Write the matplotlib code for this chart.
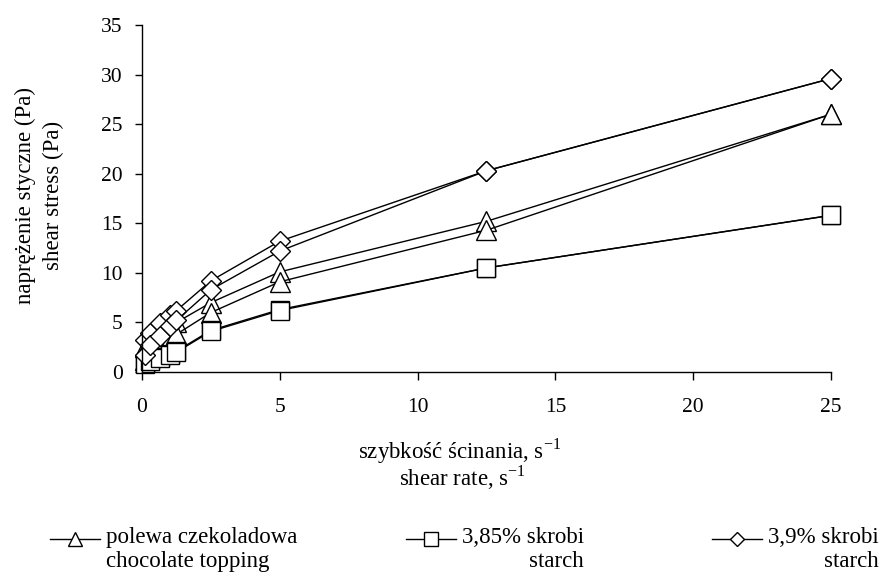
import matplotlib
matplotlib.use("Agg")
import matplotlib.pyplot as plt
from matplotlib.lines import Line2D

plt.rcParams['font.family'] = ['Liberation Serif', 'DejaVu Serif']
plt.rcParams['mathtext.fontset'] = 'custom'
plt.rcParams['mathtext.rm'] = 'Liberation Serif'

# shear rate (s^-1)
shear_rate = [0.1, 0.3, 0.65, 1.0, 1.25, 2.5, 5, 12.5, 25]

# polewa czekoladowa / chocolate topping (up and down curves)
topping_up = [2.5, 3.2, 4.0, 4.6, 5.0, 7.0, 10.1, 15.2, 26.0]
topping_down = [1.2, 1.8, 2.6, 3.3, 3.8, 6.0, 9.1, 14.3, 26.0]

# 3,85% skrobi / starch
starch385_up = [0.9, 1.2, 1.5, 1.8, 2.1, 4.2, 6.3, 10.5, 15.8]
starch385_down = [0.8, 1.1, 1.4, 1.7, 2.0, 4.1, 6.2, 10.5, 15.8]

# 3,9% skrobi / starch
starch39_up = [3.2, 3.9, 4.9, 5.7, 6.2, 9.2, 13.2, 20.3, 29.6]
starch39_down = [1.7, 2.7, 3.6, 4.6, 5.2, 8.3, 12.2, 20.3, 29.6]

x_ticks = [0, 5, 10, 15, 20, 25]
y_ticks = [0, 5, 10, 15, 20, 25, 30, 35]

legend_labels = ["polewa czekoladowa\nchocolate topping",
                 "3,85% skrobi\nstarch",
                 "3,9% skrobi\nstarch"]

W, H = 886, 574
fig = plt.figure(figsize=(W / 100, H / 100), dpi=100)
ax = fig.add_axes([142 / W, 1 - 372 / H, 689 / W, 347 / H])

FS = 15.5    # tick labels
FT = 16.5    # titles and legend
style = dict(color='black', lw=1.0, mfc='white', mec='black', mew=1.0, clip_on=False)

for ys in (topping_up, topping_down):
    ax.plot(shear_rate, ys, marker='^', ms=14, **style)
for ys in (starch385_up, starch385_down):
    ax.plot(shear_rate, ys, marker='s', ms=13.5, **style)
for ys in (starch39_up, starch39_down):
    ax.plot(shear_rate, ys, marker='D', ms=10.5, **style)

ax.set_xlim(0, 25)
ax.set_ylim(0, 35)
ax.set_xticks(x_ticks)
ax.set_yticks(y_ticks)
ax.tick_params(axis='both', labelsize=FS, direction='out', color='black', width=1.0)
ax.tick_params(axis='x', length=5.5, pad=13)
ax.tick_params(axis='y', length=5, pad=9)
for s in ('top', 'right'):
    ax.spines[s].set_visible(False)
for s in ('left', 'bottom'):
    ax.spines[s].set_linewidth(1.0)

# y label (two lines)
fig.text(25 / W, 1 - 195 / H, "naprężenie styczne (Pa)", rotation=90,
         ha='center', va='center', fontsize=FT)
fig.text(53 / W, 1 - 195 / H, "shear stress (Pa)", rotation=90,
         ha='center', va='center', fontsize=FT)

# x label (two lines)
fig.text(460 / W, 1 - 459 / H, r"szybkość ścinania, s$^{\mathregular{-1}}$",
         ha='center', va='baseline', fontsize=FT)
fig.text(462 / W, 1 - 486 / H, r"shear rate, s$^{\mathregular{-1}}$",
         ha='center', va='baseline', fontsize=FT)

# legend
markers = ['^', 's', 'D']
msizes = [10, 9.5, 7.5]
x0s = [50, 406, 712]
LY = 539
for lab, m, ms, x0 in zip(legend_labels, markers, msizes, x0s):
    fig.add_artist(Line2D([x0 / W, (x0 + 50) / W], [1 - LY / H, 1 - LY / H],
                          transform=fig.transFigure, color='black', lw=1.0))
    fig.add_artist(Line2D([(x0 + 25) / W], [1 - LY / H], transform=fig.transFigure,
                          marker=m, ms=ms, mfc='white', mec='black', mew=1.0,
                          linestyle='none'))
    ma = 'left' if m == '^' else 'right'
    fig.text((x0 + 56) / W, 1 - (LY - 12) / H, lab, ha='left', va='top', fontsize=FT,
             multialignment=ma, linespacing=1.18)

fig.savefig("out.png", dpi=100)
